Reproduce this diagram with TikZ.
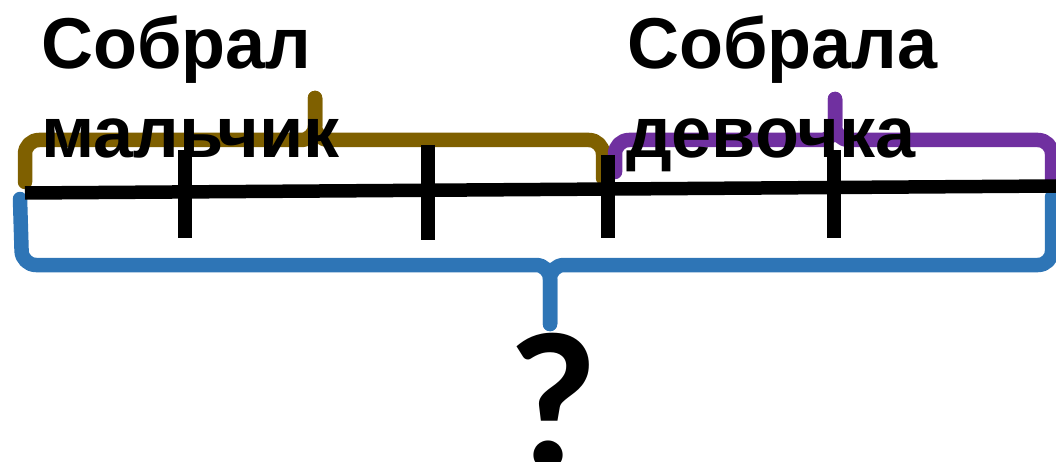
\documentclass[tikz,border=0pt]{standalone}
\usepackage{xcolor}
\usepackage{fontspec}
\setmainfont{Liberation Sans}
\newfontfamily\qfont{Carlito}
\usepackage{tikz}
\usetikzlibrary{positioning}

\definecolor{boybrown}{HTML}{7F6000}
\definecolor{girlpurple}{HTML}{7030A0}
\definecolor{totalblue}{HTML}{2E75B6}

\begin{document}
\begin{tikzpicture}[
    x=1pt, y=-1pt,
    brace/.style={line width=14.5pt, rounded corners=14pt, line cap=round, line join=round},
    boybrace/.style={brace, draw=boybrown},
    girlbrace/.style={brace, draw=girlpurple},
    totalbrace/.style={brace, draw=totalblue},
    segline/.style={draw=black, line width=13.5pt},
    tickmark/.style={draw=black, line width=13.5pt},
    wordlabel/.style={inner sep=0pt, anchor=base west, font=\fontsize{72}{90}\selectfont\bfseries},
    question/.style={inner sep=0pt, anchor=base, font=\qfont\fontsize{196}{196}\selectfont\bfseries}
]
\useasboundingbox (0,0) rectangle (1056,462);

% Boy brace (top left)
\draw[boybrace] (25,182) -- (25,140) -- (315,140) -- (315,98);
\draw[boybrace] (315,98) -- (315,140) -- (603,140) -- (603,178);

% Girl brace (top right)
\draw[girlbrace] (615,172) -- (615,140) -- (835,140) -- (835,99);
\draw[girlbrace] (835,99) -- (835,140) -- (1052,140) -- (1052,182);

% Total brace (bottom)
\draw[totalbrace] (20,199) -- (22,265) -- (550,265) -- (550,324);
\draw[totalbrace] (550,324) -- (550,265) -- (1052,265) -- (1052,197);

% Segment line with ticks
\draw[segline] (25,193) -- (1056,186);
\draw[tickmark] (185,150) -- (185,238);
\draw[tickmark] (428,145) -- (428,240);
\draw[tickmark] (608,155) -- (608,238);
\draw[tickmark] (834,150) -- (834,238);

% Labels
\node[wordlabel] (boy1) at (41,69) {Собрал};
\node[wordlabel] (boy2) at (41,158) {мальчик};
\node[wordlabel] (girl1) at (627,69) {Собрала};
\node[wordlabel] (girl2) at (626,158) {девочка};

% Question mark
\node[question] (total) at (553,468) {?};

\end{tikzpicture}
\end{document}
